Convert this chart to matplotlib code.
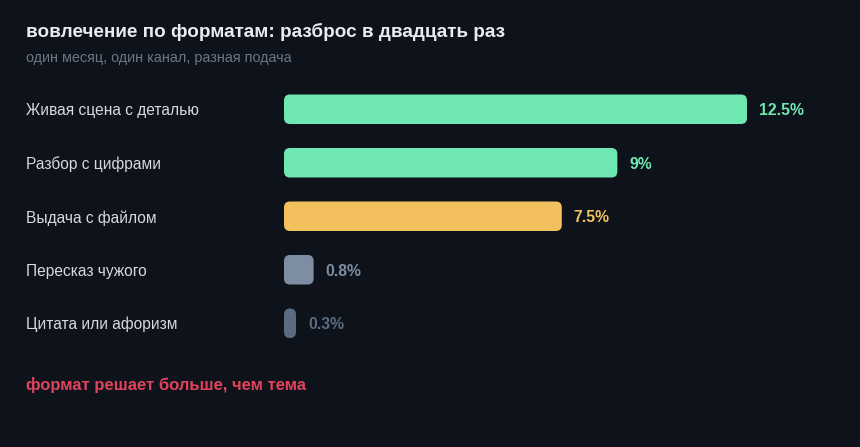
import matplotlib
matplotlib.use("Agg")
import matplotlib.pyplot as plt
from matplotlib.patches import FancyBboxPatch

plt.rcParams['font.family'] = ['Liberation Sans', 'DejaVu Sans']

categories = ["Живая сцена с деталью", "Разбор с цифрами", "Выдача с файлом",
              "Пересказ чужого", "Цитата или афоризм"]
values = [12.5, 9, 7.5, 0.8, 0.3]
value_labels = ["12.5%", "9%", "7.5%", "0.8%", "0.3%"]
colors = ["#6ee7b0", "#6ee7b0", "#f2c15e", "#7d8ea2", "#5b6b80"]
title = "вовлечение по форматам: разброс в двадцать раз"
subtitle = "один месяц, один канал, разная подача"
footer = "формат решает больше, чем тема"

BG = "#0e131b"
W, H = 860, 447
fig = plt.figure(figsize=(W / 100, H / 100), dpi=100, facecolor=BG)

ax_left, ax_right = 284, 860
ax_top, ax_bottom = 82.5, 350
ax = fig.add_axes([ax_left / W, 1 - ax_bottom / H, (ax_right - ax_left) / W, (ax_bottom - ax_top) / H])
ax.set_facecolor(BG)
px_per_unit = 463 / 12.5
row_px = (ax_bottom - ax_top) / len(categories)
ax.set_xlim(0, (ax_right - ax_left) / px_per_unit)
ax.set_ylim(len(categories) - 0.5, -0.5)
ax.axis("off")

bar_h_px = 29.5
bar_h = bar_h_px / row_px
r_px = 6
for i, (v, c, lab) in enumerate(zip(values, colors, value_labels)):
    w_px = max(v * px_per_unit, 12)
    wv = w_px / px_per_unit
    r = min(r_px, w_px / 2, bar_h_px / 2)
    rx = r / px_per_unit
    aspect = px_per_unit / row_px
    patch = FancyBboxPatch((0, i - bar_h / 2), wv, bar_h,
                           boxstyle=f"round,pad=0,rounding_size={rx}",
                           mutation_aspect=aspect,
                           facecolor=c, edgecolor="none")
    ax.add_patch(patch)
    ax.text(wv + 12 / px_per_unit, i + 1.5 / row_px, lab, color=c, fontsize=11.3,
            fontweight="bold", va="center", ha="left")
    fig.text(26 / W, 1 - (ax_top + row_px * (i + 0.5) + 1.5) / H, categories[i],
             color="#d5dae0", fontsize=11.2, va="center", ha="left")

fig.text(26 / W, 1 - 32 / H, title, color="#e8ebef", fontsize=13.6, fontweight="bold",
         va="center", ha="left")
fig.text(26 / W, 1 - 58 / H, subtitle, color="#6b7685", fontsize=10.35,
         va="center", ha="left")
fig.text(26 / W, 1 - 385 / H, footer, color="#e0435c", fontsize=12, fontweight="bold",
         va="center", ha="left")

fig.savefig("out.png", dpi=100, facecolor=BG)
